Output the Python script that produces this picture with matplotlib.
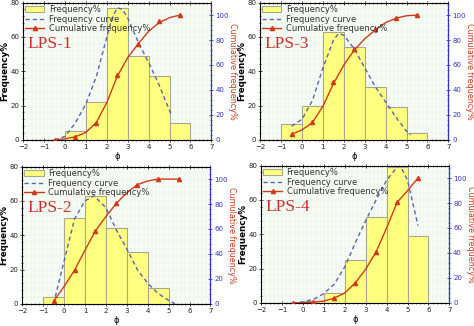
import numpy as np
import matplotlib
matplotlib.use("Agg")
import matplotlib.pyplot as plt
from matplotlib.ticker import MultipleLocator
from matplotlib.patches import Patch

# bin centres in phi units (bins 1 phi wide from -1 to 6)
phi = [-0.5, 0.5, 1.5, 2.5, 3.5, 4.5, 5.5]

# LPS-1
freq_1 = [0, 5, 22, 77, 49, 37, 10]
cum_1 = [0, 2.5, 13.5, 52, 76.5, 95, 100]
curve_x_1 = [-0.5, 0, 0.5, 1, 1.5, 2, 2.25, 2.5, 2.75, 3, 3.5, 4, 4.5, 5, 5.1]
curve_y_1 = [0, 2, 10, 21, 37, 60, 71, 77, 76, 71, 57, 45, 32, 17, 14]
cumline_x_1 = [-0.5, 0, 0.5, 1, 1.5, 2, 2.5, 3, 3.5, 4, 4.5, 5, 5.5]
cumline_y_1 = [0, 0.8, 2.5, 6, 14, 30, 51, 66, 77, 87, 94, 98, 100]

# LPS-3
freq_3 = [9, 20, 63, 54, 31, 19, 4]
cum_3 = [4.5, 14.5, 46, 73, 88.5, 98, 100]
curve_x_3 = [-0.5, 0, 0.5, 1, 1.5, 1.75, 2, 2.5, 3, 3.5, 4, 4.5, 5, 5.2]
curve_y_3 = [8, 12, 23, 42, 58, 62, 61, 53, 42, 31, 22, 13, 5, 3]
cumline_x_3 = [-0.5, 0, 0.5, 1, 1.5, 2, 2.5, 3, 3.5, 4, 4.5, 5, 5.5]
cumline_y_3 = [4.5, 8, 14, 27, 45, 60, 72, 81, 88, 94, 97.5, 99.5, 100]

# LPS-2
freq_2 = [4, 50, 63, 44, 30, 9, 0]
cum_2 = [2, 27, 58.5, 80.5, 95.5, 100, 100]
curve_x_2 = [-0.5, 0, 0.5, 1, 1.43, 2, 2.5, 3, 3.5, 4, 4.5, 5, 5.3]
curve_y_2 = [0, 25, 49.5, 60, 63, 56, 43, 32, 20, 12, 6, 2, 0]
cumline_x_2 = [-0.5, 0, 0.5, 1, 1.5, 2, 2.5, 3, 3.5, 4, 4.5, 5, 5.5]
cumline_y_2 = [2, 14, 27, 43, 58.5, 70, 80.5, 89, 95.5, 98.5, 100, 100, 100]

# LPS-4
freq_4 = [0, 1, 6, 25, 50, 79, 39]
cum_4 = [0, 0.5, 3.5, 16, 41, 80.5, 100]
curve_x_4 = [-0.5, 0, 0.5, 1, 1.5, 2, 2.5, 3, 3.5, 4, 4.5, 4.65, 5, 5.5]
curve_y_4 = [0, 0.6, 2, 5.4, 11, 21, 35, 48, 60, 71.5, 79, 80, 71.5, 45]
cumline_x_4 = [-0.5, 0, 0.5, 1, 1.5, 2, 2.5, 3, 3.5, 4, 4.5, 5, 5.5]
cumline_y_4 = [0, 0.1, 0.5, 1.5, 3.8, 8, 16, 27, 41, 60, 80.5, 90, 100]

panels = [
    ("LPS-1", freq_1, cum_1, curve_x_1, curve_y_1, cumline_x_1, cumline_y_1, [0.049, 0.571]),
    ("LPS-3", freq_3, cum_3, curve_x_3, curve_y_3, cumline_x_3, cumline_y_3, [0.549, 0.571]),
    ("LPS-2", freq_2, cum_2, curve_x_2, curve_y_2, cumline_x_2, cumline_y_2, [0.047, 0.068]),
    ("LPS-4", freq_4, cum_4, curve_x_4, curve_y_4, cumline_x_4, cumline_y_4, [0.551, 0.071]),
]

bar_color = "#ffff80"
bar_edge = "#a8a890"
curve_color = "#5566b0"
cum_color = "#cf3a1a"
right_color = "#3333cc"

fig = plt.figure(figsize=(4.74, 3.26), dpi=100)
fig.patch.set_facecolor("white")

for name, freq, cum, cx, cy, lx, ly, pos in panels:
    ax = fig.add_axes([pos[0], pos[1], 0.397, 0.421])
    ax.set_facecolor("#f8fcf6")
    ax.bar(phi, freq, width=1.0, color=bar_color, edgecolor=bar_edge,
           linewidth=0.8, zorder=2)
    ax.plot(cx, cy, ls=(0, (3, 2.2)), color=curve_color, lw=1.0, zorder=3)
    ax.set_xlim(-2, 7)
    ax.set_ylim(0, 80)
    ax.xaxis.set_major_locator(MultipleLocator(1))
    ax.xaxis.set_minor_locator(MultipleLocator(0.2))
    ax.yaxis.set_major_locator(MultipleLocator(20))
    ax.yaxis.set_minor_locator(MultipleLocator(4))
    ax.grid(which="both", color="#e4f0e4", lw=0.35, zorder=0)
    ax.set_axisbelow(True)
    ax.tick_params(which="major", labelsize=5, length=2.5, width=0.6,
                   direction="inout", pad=1.5, top=True, colors="#222222")
    ax.tick_params(which="minor", length=1.3, width=0.4, direction="inout", top=True)
    ax.set_ylabel("Frequency%", fontsize=6.3, fontweight="bold", labelpad=1)
    ax.set_xlabel("ϕ", fontsize=6, labelpad=2)
    for s in ["left", "bottom", "top"]:
        ax.spines[s].set_linewidth(0.7)

    ax2 = ax.twinx()
    ax2.plot(lx, ly, color=cum_color, lw=1.0, zorder=4)
    ax2.plot(phi, cum, ls="none", marker="^", ms=3, color=cum_color, zorder=5)
    ax2.set_ylim(0, 110)
    ax2.yaxis.set_major_locator(MultipleLocator(20))
    ax2.yaxis.set_minor_locator(MultipleLocator(4))
    ax2.tick_params(which="major", labelsize=5, length=2.5, width=0.6,
                    direction="inout", pad=1.5, colors=right_color)
    ax2.tick_params(which="minor", length=1.3, width=0.4, direction="inout",
                    colors=right_color)
    ax2.spines["right"].set_color(right_color)
    ax2.spines["right"].set_linewidth(0.8)
    ax2.set_ylabel("Cumulative frequency%", fontsize=5.8, color=cum_color,
                   rotation=270, labelpad=6)

    handles = [
        Patch(facecolor=bar_color, edgecolor=bar_edge, lw=0.8),
        plt.Line2D([], [], ls=(0, (3, 2.2)), color=curve_color, lw=1.0),
        plt.Line2D([], [], color=cum_color, lw=1.0, marker="^", ms=3),
    ]
    ax2.legend(handles, ["Frequency%", "Frequency curve", "Cumulative frequency%"],
               loc="upper left", frameon=False, fontsize=6, handlelength=2.3,
               handletextpad=0.5, labelspacing=0.1, borderaxespad=0.0,
               borderpad=0.25, labelcolor="#333333")

    ax2.text(0.025, 0.70, name, transform=ax2.transAxes, fontsize=12.5,
             family="Liberation Serif", color="#c8322a", va="center", zorder=6)

fig.savefig("out.png", dpi=100)
